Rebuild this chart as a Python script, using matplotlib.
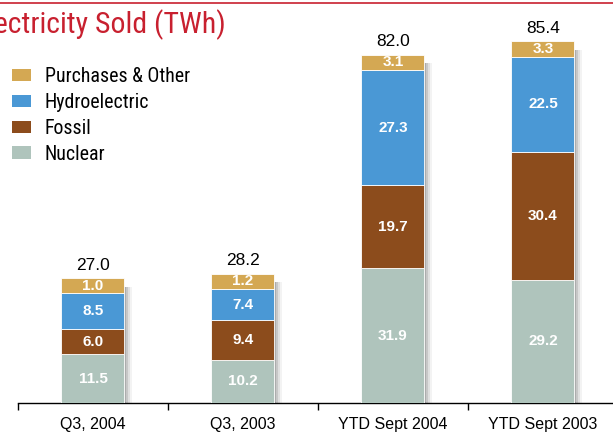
import matplotlib
matplotlib.use("Agg")
import matplotlib.pyplot as plt
import numpy as np

# Dados (TWh)
categories = ["Q3, 2004", "Q3, 2003", "YTD Sept 2004", "YTD Sept 2003"]
nuclear = [11.5, 10.2, 31.9, 29.2]
fossil = [6.0, 9.4, 19.7, 30.4]
hydro = [8.5, 7.4, 27.3, 22.5]
purchases = [1.0, 1.2, 3.1, 3.3]
totals = [27.0, 28.2, 82.0, 85.4]

series = [
    ("Nuclear", nuclear, "#afc4bc"),
    ("Fossil", fossil, "#8c4c1c"),
    ("Hydroelectric", hydro, "#4a98d5"),
    ("Purchases & Other", purchases, "#d4a853"),
]

# altura minima desenhada para que o rotulo caiba no segmento (como no original)
min_seg = 3.6

narrow = ["Roboto Condensed", "Liberation Sans Narrow", "Liberation Sans", "DejaVu Sans"]
plt.rcParams["font.family"] = ["Liberation Sans", "DejaVu Sans"]

fig = plt.figure(figsize=(6.13, 4.34), dpi=100)
ax = fig.add_axes([18 / 613, 31 / 434, 595 / 613, 384 / 434])

x = np.arange(len(categories))
width = 0.42

bottom = np.zeros(len(categories))
handles = []
for name, vals, color in series:
    drawn = np.maximum(np.array(vals), min_seg)
    bars = ax.bar(x, drawn, width, bottom=bottom, color=color,
                  edgecolor="white", linewidth=0.6, label=name, zorder=3)
    for xi, v, d, b0 in zip(x, vals, drawn, bottom):
        ax.text(xi, b0 + d / 2, f"{v:.1f}", ha="center", va="center",
                color="white", fontsize=11, fontweight="bold", zorder=5)
    bottom += drawn
    handles.append(bars)

# sombra a direita das barras
for k, a in enumerate([0.30, 0.22, 0.14, 0.08]):
    off = 0.012 + k * 0.012
    ax.bar(x + off, bottom - 2.0, width, color="#707070", alpha=a,
           linewidth=0, zorder=2)

for xi, top, t in zip(x, bottom, totals):
    ax.annotate(f"{t:.1f}", (xi, top), xytext=(0, 4), textcoords="offset points",
                ha="center", va="bottom", fontsize=12.5, color="black")

ax.set_xlim(-0.5, 3.467)
ax.set_ylim(0, 91)
for s in ["top", "right", "left"]:
    ax.spines[s].set_visible(False)
ax.spines["bottom"].set_linewidth(1.0)
ax.set_yticks([])
ax.set_xticks(x)
ax.set_xticklabels(categories, fontsize=11.5)
ax.tick_params(axis="x", which="major", length=0, pad=10)
ax.set_xticks([-0.5, 0.5, 1.5, 2.5], minor=True)
ax.tick_params(axis="x", which="minor", length=5, width=1.0)

leg = fig.legend(handles[::-1], [s[0] for s in series][::-1],
                 loc="upper left", bbox_to_anchor=(4 / 613, 1 - 59 / 434),
                 frameon=False, prop={"family": narrow, "size": 14.3},
                 handlelength=0.95, handleheight=0.6, handletextpad=0.7,
                 labelspacing=0.35, borderaxespad=0.0)
for h in leg.legend_handles:
    h.set_edgecolor("none")

fig.text(226 / 613, 1 - 25 / 434, "Electricity Sold (TWh)", ha="right", va="center",
         fontsize=21.5, color="#c8202f", family=narrow)
fig.add_artist(plt.Line2D([0, 1], [1 - 3 / 434, 1 - 3 / 434], color="#c8202f", linewidth=1.2))

fig.savefig("out.png", dpi=100)
